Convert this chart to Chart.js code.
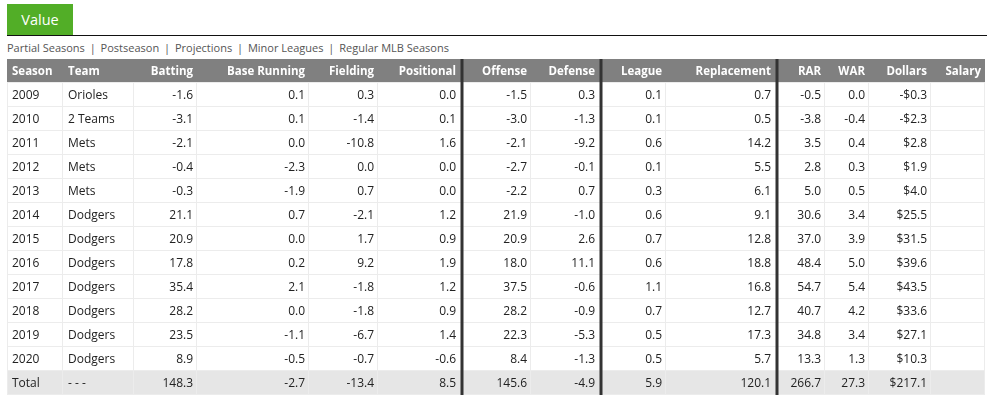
<!DOCTYPE html>
<html>
<head>
<meta charset="utf-8">
<script src="https://cdn.jsdelivr.net/npm/chart.js@4/dist/chart.umd.min.js"></script>
<style>
  body { margin: 0; background: #fff; font-family: "Open Sans", "Noto Sans", sans-serif; }
  #tab { position: absolute; left: 7px; top: 4px; width: 66px; height: 31px; background: #52ae27;
         color: #fff; font-size: 14.5px; line-height: 31px; text-align: center; }
  #rule { position: absolute; left: 7px; top: 35px; width: 980px; height: 0; border-top: 1.5px solid #111; }
  #links { position: absolute; left: 7px; top: 40px; font-size: 11px; color: #555; white-space: nowrap; }
  #links span { margin: 0 2px; }
  #wrap { position: absolute; left: 7px; top: 59px; }
</style>
</head>
<body>
<div id="tab">Value</div>
<div id="rule"></div>
<div id="links">Partial Seasons <span>|</span> Postseason <span>|</span> Projections <span>|</span> Minor Leagues <span>|</span> Regular MLB Seasons</div>
<div id="wrap"><canvas id="valueTable" width="978" height="336"></canvas></div>
<script>
// Table data
const columns = ["Season", "Team", "Batting", "Base Running", "Fielding", "Positional",
  "Offense", "Defense", "League", "Replacement", "RAR", "WAR", "Dollars", "Salary"];
const seasons = ["2009", "2010", "2011", "2012", "2013", "2014", "2015", "2016", "2017", "2018", "2019", "2020"];
const teams = ["Orioles", "2 Teams", "Mets", "Mets", "Mets", "Dodgers", "Dodgers", "Dodgers", "Dodgers", "Dodgers", "Dodgers", "Dodgers"];
const batting = [-1.6, -3.1, -2.1, -0.4, -0.3, 21.1, 20.9, 17.8, 35.4, 28.2, 23.5, 8.9];
const baseRunning = [0.1, 0.1, 0.0, -2.3, -1.9, 0.7, 0.0, 0.2, 2.1, 0.0, -1.1, -0.5];
const fielding = [0.3, -1.4, -10.8, 0.0, 0.7, -2.1, 1.7, 9.2, -1.8, -1.8, -6.7, -0.7];
const positional = [0.0, 0.1, 1.6, 0.0, 0.0, 1.2, 0.9, 1.9, 1.2, 0.9, 1.4, -0.6];
const offense = [-1.5, -3.0, -2.1, -2.7, -2.2, 21.9, 20.9, 18.0, 37.5, 28.2, 22.3, 8.4];
const defense = [0.3, -1.3, -9.2, -0.1, 0.7, -1.0, 2.6, 11.1, -0.6, -0.9, -5.3, -1.3];
const league = [0.1, 0.1, 0.6, 0.1, 0.3, 0.6, 0.7, 0.6, 1.1, 0.7, 0.5, 0.5];
const replacement = [0.7, 0.5, 14.2, 5.5, 6.1, 9.1, 12.8, 18.8, 16.8, 12.7, 17.3, 5.7];
const rar = [-0.5, -3.8, 3.5, 2.8, 5.0, 30.6, 37.0, 48.4, 54.7, 40.7, 34.8, 13.3];
const war = [0.0, -0.4, 0.4, 0.3, 0.5, 3.4, 3.9, 5.0, 5.4, 4.2, 3.4, 1.3];
const dollars = [-0.3, -2.3, 2.8, 1.9, 4.0, 25.5, 31.5, 39.6, 43.5, 33.6, 27.1, 10.3];
const totals = [148.3, -2.7, -13.4, 8.5, 145.6, -4.9, 5.9, 120.1, 266.7, 27.3, 217.1];

// Layout: column widths (x-scale units) and which edges get a thick divider
const colWidths = [56, 71, 63, 112, 69, 84, 69, 70, 65, 111, 48, 44, 62, 54];
const thickAfter = [5, 7, 9];

function fmt(v) { return v.toFixed(1); }
function money(v) { return (v < 0 ? "-$" : "$") + Math.abs(v).toFixed(1); }

// Build rows of strings from the arrays
const rows = seasons.map(function (s, i) {
  return [s, teams[i], fmt(batting[i]), fmt(baseRunning[i]), fmt(fielding[i]), fmt(positional[i]),
    fmt(offense[i]), fmt(defense[i]), fmt(league[i]), fmt(replacement[i]), fmt(rar[i]), fmt(war[i]),
    money(dollars[i]), ""];
});
rows.push(["Total", "- - -"].concat(totals.slice(0, 10).map(fmt), [money(totals[10]), ""]));

const edges = [0];
colWidths.forEach(function (w) { edges.push(edges[edges.length - 1] + w); });

// Plugin that paints the cells using the chart's scales
const tablePlugin = {
  id: "tablePlugin",
  beforeDraw: function (chart) {
    const ctx = chart.ctx;
    const xs = chart.scales.x, ys = chart.scales.y;
    const nRows = rows.length + 1;
    ctx.save();
    // header background
    ctx.fillStyle = "#808080";
    ctx.fillRect(xs.getPixelForValue(0), ys.getPixelForValue(0),
      xs.getPixelForValue(edges[edges.length - 1]) - xs.getPixelForValue(0),
      ys.getPixelForValue(1) - ys.getPixelForValue(0));
    // total row background
    ctx.fillStyle = "#e6e6e6";
    ctx.fillRect(xs.getPixelForValue(0), ys.getPixelForValue(nRows - 1),
      xs.getPixelForValue(edges[edges.length - 1]) - xs.getPixelForValue(0),
      ys.getPixelForValue(nRows) - ys.getPixelForValue(nRows - 1));

    // light grid lines
    ctx.strokeStyle = "#ececec";
    ctx.lineWidth = 1;
    for (let r = 1; r <= nRows; r++) {
      const y = Math.round(ys.getPixelForValue(r)) - 0.5;
      ctx.beginPath();
      ctx.moveTo(xs.getPixelForValue(0), y);
      ctx.lineTo(xs.getPixelForValue(edges[edges.length - 1]), y);
      ctx.stroke();
    }
    for (let c = 0; c < edges.length; c++) {
      const x = Math.round(xs.getPixelForValue(edges[c])) + (c === 0 ? 0.5 : -0.5);
      ctx.beginPath();
      ctx.moveTo(x, ys.getPixelForValue(1));
      ctx.lineTo(x, ys.getPixelForValue(nRows));
      ctx.stroke();
    }

    // text
    ctx.textBaseline = "middle";
    columns.forEach(function (name, c) {
      const left = xs.getPixelForValue(edges[c]);
      const right = xs.getPixelForValue(edges[c + 1]);
      const alignLeft = c < 2;
      ctx.textAlign = alignLeft ? "left" : "right";
      const tx = alignLeft ? left + 5 : right - (thickAfter.indexOf(c) >= 0 ? 6 : 4);
      // header
      ctx.font = "bold 11.5px 'Open Sans', sans-serif";
      ctx.fillStyle = "#ffffff";
      ctx.fillText(name, tx, (ys.getPixelForValue(0) + ys.getPixelForValue(1)) / 2 + 1);
      // body
      ctx.font = "12px 'Open Sans', sans-serif";
      ctx.fillStyle = "#222222";
      rows.forEach(function (row, r) {
        const yc = (ys.getPixelForValue(r + 1) + ys.getPixelForValue(r + 2)) / 2 + 1;
        ctx.fillText(row[c], tx, yc);
      });
    });

    // thick dividers
    ctx.strokeStyle = "#333333";
    ctx.lineWidth = 3;
    thickAfter.forEach(function (c) {
      const x = xs.getPixelForValue(edges[c + 1]);
      ctx.beginPath();
      ctx.moveTo(x, ys.getPixelForValue(0));
      ctx.lineTo(x, ys.getPixelForValue(nRows));
      ctx.stroke();
    });
    ctx.restore();
  }
};

new Chart(document.getElementById("valueTable").getContext("2d"), {
  type: "scatter",
  data: { datasets: [{ data: [] }] },
  options: {
    responsive: false,
    animation: false,
    layout: { padding: 0 },
    plugins: { legend: { display: false }, tooltip: { enabled: false } },
    scales: {
      x: { type: "linear", min: 0, max: edges[edges.length - 1], display: false },
      y: { type: "linear", min: 0, max: rows.length + 1, reverse: true, display: false }
    }
  },
  plugins: [tablePlugin]
});
</script>
</body>
</html>
